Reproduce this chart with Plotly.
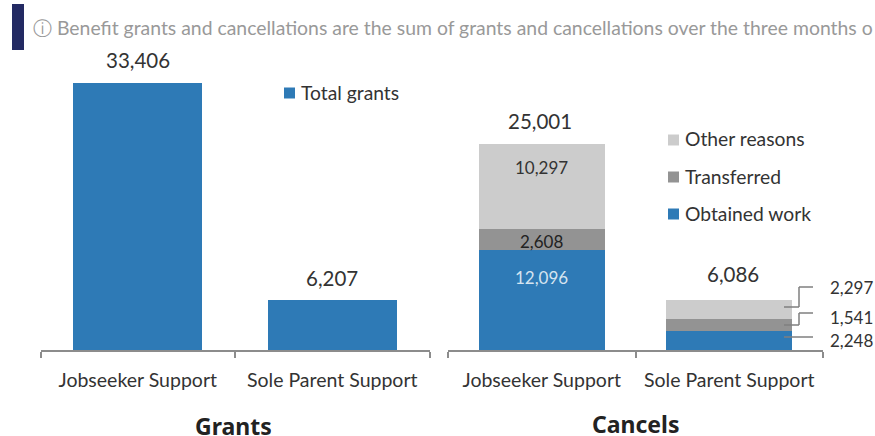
import plotly.graph_objects as go

categories = ["Jobseeker Support", "Sole Parent Support"]
grants = [33406, 6207]
obtained_work = [12096, 2248]
transferred = [2608, 1541]
other_reasons = [10297, 2297]
cancel_totals = [25001, 6086]
small_labels = ["2,297", "1,541", "2,248"]
note = "ⓘ Benefit grants and cancellations are the sum of grants and cancellations over the three months o"

W, H = 875, 436
FONT = "Lato"
DARK = "#333333"
BLUE = "#2e7ab6"
MID = "#939393"
LIGHT = "#cccccc"
AXIS = "#8c8c8c"


def px(x):
    return x / W


def py(y):
    return 1 - y / H


fig = go.Figure()
fig.add_bar(x=categories, y=grants, marker_color=BLUE, marker_line_width=0, width=0.663, xaxis="x", yaxis="y",
            showlegend=False)

annotations = []
base = 0
for vals, color, tc, shift in [
    (obtained_work, BLUE, "#d5e4f0", -27),
    (transferred, MID, "#222222", -13),
    (other_reasons, LIGHT, DARK, -24),
]:
    fig.add_bar(x=categories, y=vals, marker_color=color, marker_line_width=0, width=0.672, xaxis="x2", yaxis="y2",
                showlegend=False)
    base += vals[0]
    annotations.append(dict(text=f"{vals[0]:,}", x=categories[0], y=base, xref="x2", yref="y2", yanchor="middle",
                            xanchor="center", yshift=shift, showarrow=False,
                            font=dict(size=17, color=tc, family=FONT)))

axis_common = dict(showgrid=False, zeroline=False, showline=True, linecolor=AXIS, linewidth=2, ticks="outside",
                   tickson="boundaries", ticklen=6, tickwidth=2, tickcolor=AXIS, range=[-0.5, 1.5],
                   tickfont=dict(size=19.5, color=DARK, family=FONT), ticklabelstandoff=12)
shapes = [dict(type="rect", xref="paper", yref="paper", x0=px(12), x1=px(24), y0=py(50), y1=py(4),
               fillcolor="#232a63", line_width=0)]
annotations += [
    dict(text=note, x=px(31), y=py(27), xref="paper", yref="paper", xanchor="left", yanchor="middle", showarrow=False,
         font=dict(size=19.4, color="#999999", family=FONT), align="left"),
    dict(text="<b>Grants</b>", x=px(234), y=py(426), xref="paper", yref="paper", xanchor="center", yanchor="middle",
         height=20, showarrow=False, font=dict(size=23, color="#222222", family="Noto Sans")),
    dict(text="<b>Cancels</b>", x=px(636), y=py(424), xref="paper", yref="paper", xanchor="center", yanchor="middle",
         height=20, showarrow=False, font=dict(size=23, color="#222222", family="Noto Sans")),
]

for axx, axy, totals, xs, ys in [("x", "y", grants, [0, 0], [9, 8]), ("x2", "y2", cancel_totals, [-2, 4], [9, 12])]:
    for c, t, dx, dy in zip(categories, totals, xs, ys):
        annotations.append(dict(text=f"{t:,}", x=c, y=t, xref=axx, yref=axy, xanchor="center", yanchor="bottom",
                                xshift=dx, yshift=dy, showarrow=False,
                                font=dict(size=20.5, color=DARK, family=FONT)))

legend_items = [("Total grants", BLUE, 284, 93), ("Other reasons", LIGHT, 668, 140),
                ("Transferred", MID, 668, 177), ("Obtained work", BLUE, 668, 214)]
for name, color, x, y in legend_items:
    shapes.append(dict(type="rect", xref="paper", yref="paper", x0=px(x), x1=px(x + 11), y0=py(y + 5.5), y1=py(y - 5.5),
                       fillcolor=color, line_width=0))
    annotations.append(dict(text=name, x=px(x + 15), y=py(y - 1), xref="paper", yref="paper", xanchor="left",
                            yanchor="middle", showarrow=False, font=dict(size=19.3, color=DARK, family=FONT)))

leaders = [[(784, 307), (799, 307), (799, 287), (813, 287)],
           [(784, 325), (799, 325), (799, 313), (813, 313)],
           [(784, 337), (813, 337)]]
for pts in leaders:
    for (a, b), (c, d) in zip(pts, pts[1:]):
        shapes.append(dict(type="line", xref="paper", yref="paper", x0=px(a), x1=px(c), y0=py(b), y1=py(d),
                           line=dict(color="#7f7f7f", width=1.5)))
for label, y in zip(small_labels, [287, 317, 340]):
    annotations.append(dict(text=label, x=px(828), y=py(y), xref="paper", yref="paper", xanchor="left",
                            yanchor="middle", showarrow=False, font=dict(size=17, color=DARK, family=FONT)))

y_dom = [py(350), py(49)]
fig.update_layout(
    width=W, height=H, margin=dict(l=0, r=0, t=0, b=0), paper_bgcolor="white", plot_bgcolor="white",
    barmode="stack", autosize=False,
    xaxis=dict(domain=[px(40.5), px(429.5)], **axis_common, anchor="y"),
    xaxis2=dict(domain=[px(448), px(823)], **axis_common, anchor="y2"),
    yaxis=dict(domain=y_dom, range=[0, 37650], visible=False, anchor="x"),
    yaxis2=dict(domain=y_dom, range=[0, 36500], visible=False, anchor="x2"),
    shapes=shapes, annotations=annotations,
)
fig.write_html("out.html", config=dict(displayModeBar=False),
               post_script="document.body.style.margin='0';document.body.style.overflow='hidden';")
